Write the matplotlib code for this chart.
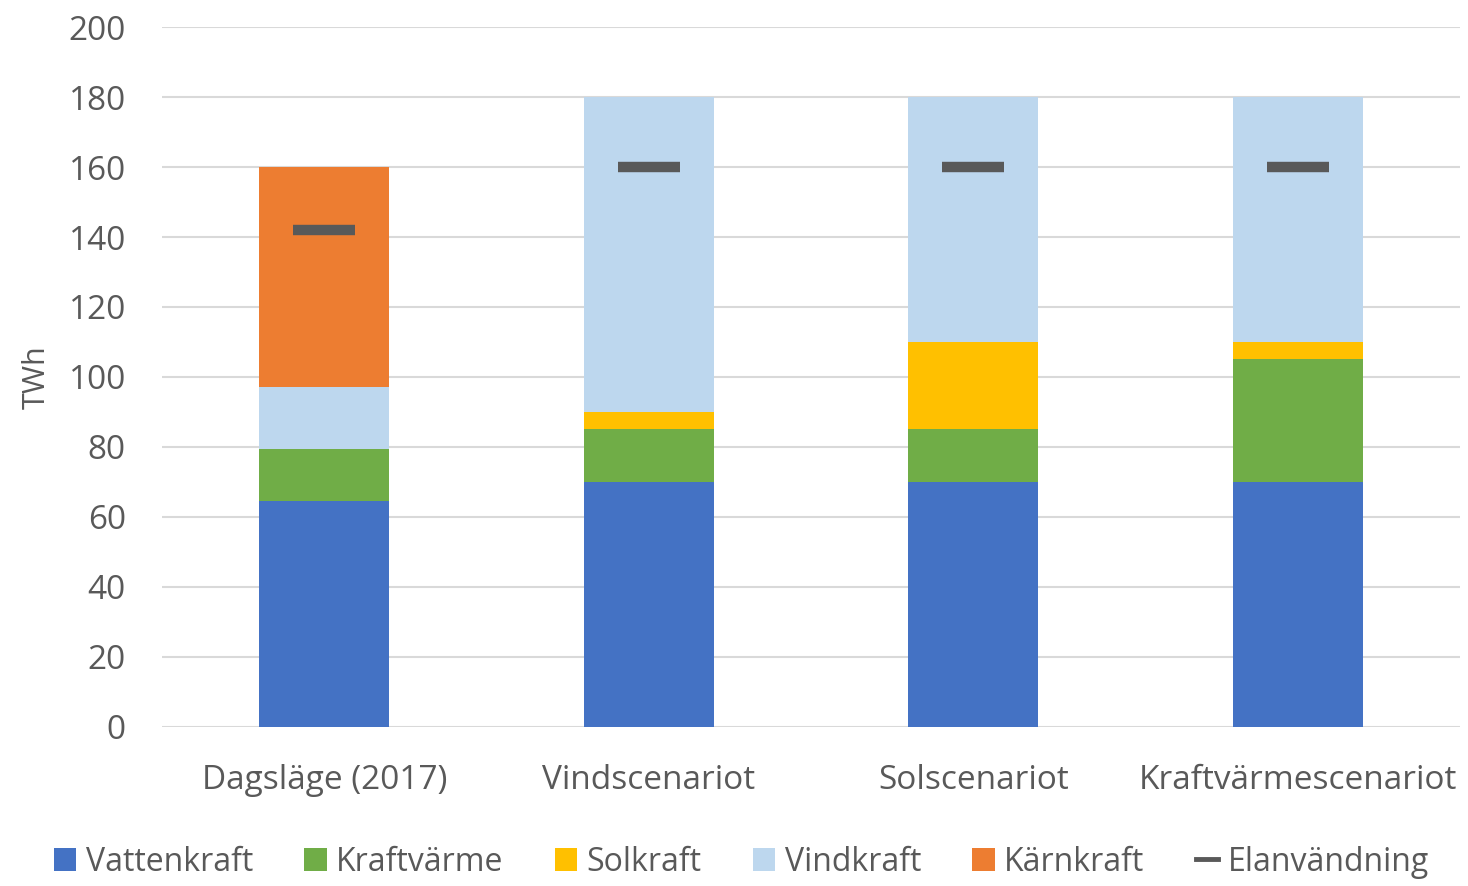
import numpy as np
import matplotlib
matplotlib.use("Agg")
import matplotlib.pyplot as plt
from matplotlib.lines import Line2D

plt.rcParams['font.family'] = ['Open Sans', 'DejaVu Sans']

# data (TWh)
categories = ["Dagsläge (2017)", "Vindscenariot", "Solscenariot", "Kraftvärmescenariot"]
vattenkraft = [64.5, 70, 70, 70]
kraftvarme = [15, 15, 15, 35]
solkraft = [0, 5, 25, 5]
vindkraft = [17.5, 90, 70, 70]
karnkraft = [63, 0, 0, 0]
elanvandning = [142, 160, 160, 160]

series = [
    ("Vattenkraft", vattenkraft, "#4472c4"),
    ("Kraftvärme", kraftvarme, "#70ad47"),
    ("Solkraft", solkraft, "#ffc000"),
    ("Vindkraft", vindkraft, "#bdd7ee"),
    ("Kärnkraft", karnkraft, "#ed7d31"),
]

fig = plt.figure(figsize=(14.68, 8.86), dpi=100)
ax = fig.add_axes([0.1104, 0.1795, 0.8842, 0.79])

x = np.arange(len(categories))
bottom = np.zeros(len(categories))
handles = []
for name, vals, col in series:
    b = ax.bar(x, vals, 0.4, bottom=bottom, color=col, label=name, zorder=2)
    handles.append(b)
    bottom += np.array(vals)

# Elanvändning as short dashes on the bars
ax.plot(x, elanvandning, linestyle='none', marker='_', markersize=45,
        markeredgewidth=7.5, color="#595959", zorder=3)
handles.append(Line2D([], [], color="#595959", linewidth=3.5))
labels = [s[0] for s in series] + ["Elanvändning"]

ax.set_xlim(-0.5, 3.5)
ax.set_ylim(0, 200)
ax.set_yticks(range(0, 201, 20))
ax.set_xticks(x)
ax.set_xticklabels(categories)
ax.grid(axis='y', color="#d9d9d9", linewidth=1.5, zorder=0)
for s in ax.spines.values():
    s.set_visible(False)
ax.tick_params(length=0, labelsize=24, colors="#595959")
ax.tick_params(axis='y', pad=26)
ax.tick_params(axis='x', pad=27)
ax.set_ylabel("TWh", fontsize=22, color="#595959")
ax.yaxis.set_label_coords(-0.085, 0.5)

fig.legend(handles, labels, loc='center', ncol=6, frameon=False,
           bbox_to_anchor=(0.505, 0.027), fontsize=23, labelcolor="#595959",
           handlelength=0.7, handleheight=0.7, handletextpad=0.3, columnspacing=1.6)

fig.savefig("out.png", dpi=100)
